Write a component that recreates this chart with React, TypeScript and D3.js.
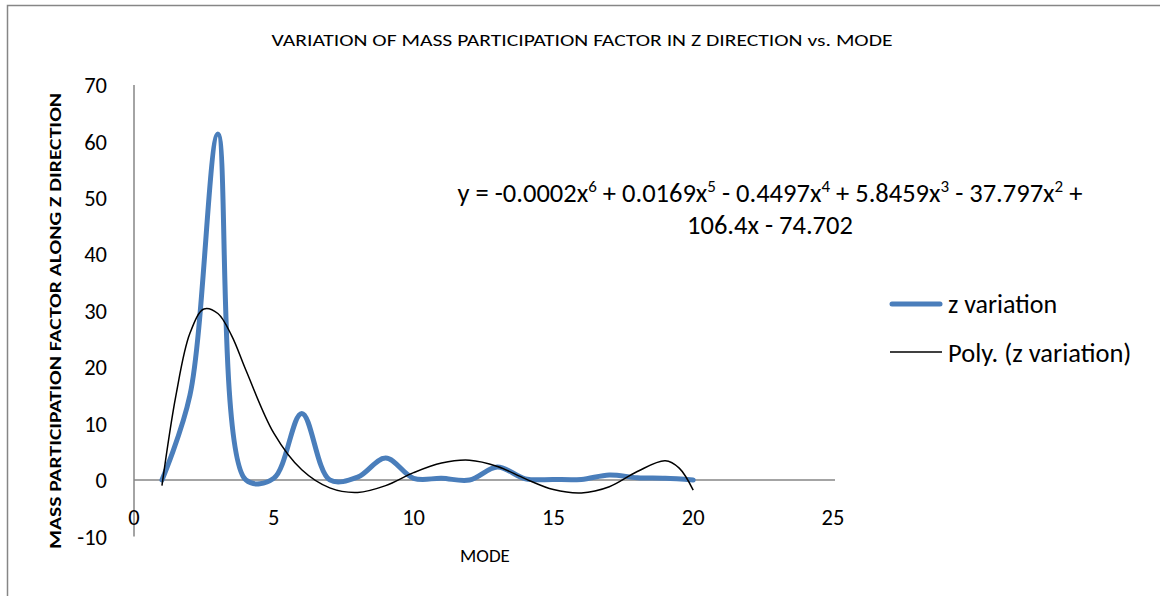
import React from "react";
import * as d3 from "d3";

const modes = [1, 2, 3, 4, 5, 6, 7, 8, 9, 10, 11, 12, 13, 14, 15, 16, 17, 18, 19, 20];
const zVariation = [0, 15, 61.3, 0, 0.3, 11.8, 0, 0.5, 3.9, 0.3, 0.3, 0, 2.3, 0.2, 0.1, 0.1, 0.9, 0.4, 0.3, 0];

// trendline
const polyX = [1, 1.5, 2, 2.5, 3, 3.5, 4, 5, 6, 7, 8, 9, 10, 11, 12, 13, 14, 15, 16, 17, 18, 19, 19.5, 20];
const polyY = [-1, 15, 26, 30.3, 29.5, 25.5, 19.5, 8.3, 1.8, -1.4, -2.2, -1.0, 1.3, 3.0, 3.5, 2.4, 0.2, -1.7, -2.3, -1.2, 1.5, 3.4, 2.1, -1.8];

const xTicks = [0, 5, 10, 15, 20, 25];
const yTicks = [-10, 0, 10, 20, 30, 40, 50, 60, 70];

const title = "VARIATION OF MASS PARTICIPATION FACTOR IN Z DIRECTION vs. MODE";
const xTitle = "MODE";
const yTitle = "MASS PARTICIPATION FACTOR ALONG Z DIRECTION";
const seriesName = "z variation";
const trendName = "Poly. (z variation)";

const FONT = "Carlito, Calibri, Lato, 'Open Sans', sans-serif";

export default function App() {
  const W = 1160, H = 596;
  const x = d3.scaleLinear().domain([0, 25]).range([134, 833]);
  const y = d3.scaleLinear().domain([-10, 70]).range([536.4, 85]);

  const line = d3
    .line<number>()
    .x((_, i) => x(modes[i]))
    .y((d) => y(d))
    .curve(d3.curveCatmullRom.alpha(0.5));

  const polyLine = d3
    .line<number>()
    .x((_, i) => x(polyX[i]))
    .y((d) => y(d))
    .curve(d3.curveCatmullRom.alpha(0.5));

  const axisColor = "#868686";

  const sup = (t: string) => (
    <tspan fontSize={17} dy={-10}>{t}</tspan>
  );
  const down = (t: string) => <tspan dy={10}>{t}</tspan>;

  return (
    <svg width={W} height={H} style={{ position: "absolute", left: 0, top: 0, background: "#fff" }} fontFamily={FONT}>
      <rect x={0} y={0} width={W} height={H} fill="#fff" />
      {/* chart frame */}
      <path d={`M7.5,${H + 2} L7.5,5.5 L${W + 2},5.5`} fill="none" stroke={axisColor} strokeWidth={1.5} />

      {/* title */}
      <text x={582} y={46} textAnchor="middle" fontSize={16} fill="#000" textLength={621} lengthAdjust="spacingAndGlyphs">
        {title}
      </text>

      {/* axes */}
      <line x1={x(0)} x2={x(0)} y1={y(70)} y2={y(-10)} stroke={axisColor} strokeWidth={1.5} />
      <line x1={x(0)} x2={x(25) + 2} y1={y(0)} y2={y(0)} stroke={axisColor} strokeWidth={1.5} />

      {yTicks.map((t) => (
        <text key={t} x={107} y={y(t)} dy="0.36em" textAnchor="end" fontSize={22.5} fill="#000">
          {t}
        </text>
      ))}
      {xTicks.map((t) => (
        <text key={t} x={x(t)} y={517} dy="0.36em" textAnchor="middle" fontSize={22.5} fill="#000">
          {t}
        </text>
      ))}

      <text x={485} y={562} textAnchor="middle" fontSize={19} fill="#000">{xTitle}</text>
      <text
        transform={`translate(61,321) rotate(-90)`}
        textAnchor="middle"
        fontSize={16}
        fontWeight="bold"
        fill="#000"
        textLength={456}
        lengthAdjust="spacingAndGlyphs"
      >
        {yTitle}
      </text>

      {/* series */}
      <path d={line(zVariation) || ""} fill="none" stroke="#4a7ebb" strokeWidth={5} strokeLinecap="round" strokeLinejoin="round" />
      <path d={polyLine(polyY) || ""} fill="none" stroke="#000" strokeWidth={1.5} />

      {/* equation */}
      <text x={770} y={202} textAnchor="middle" fontSize={26.5} fill="#000">
        {"y = -0.0002x"}{sup("6")}{down(" + 0.0169x")}{sup("5")}{down(" - 0.4497x")}{sup("4")}{down(" + 5.8459x")}{sup("3")}{down(" - 37.797x")}{sup("2")}{down(" +")}
      </text>
      <text x={770} y={234} textAnchor="middle" fontSize={26.5} fill="#000">
        106.4x - 74.702
      </text>

      {/* legend */}
      <line x1={892} x2={940} y1={304} y2={304} stroke="#4a7ebb" strokeWidth={5} strokeLinecap="round" />
      <text x={948} y={304} dy="0.36em" fontSize={26} fill="#000">{seriesName}</text>
      <line x1={890} x2={942} y1={352} y2={352} stroke="#000" strokeWidth={1.5} />
      <text x={948} y={352} dy="0.36em" fontSize={26.5} fill="#000">{trendName}</text>
    </svg>
  );
}
